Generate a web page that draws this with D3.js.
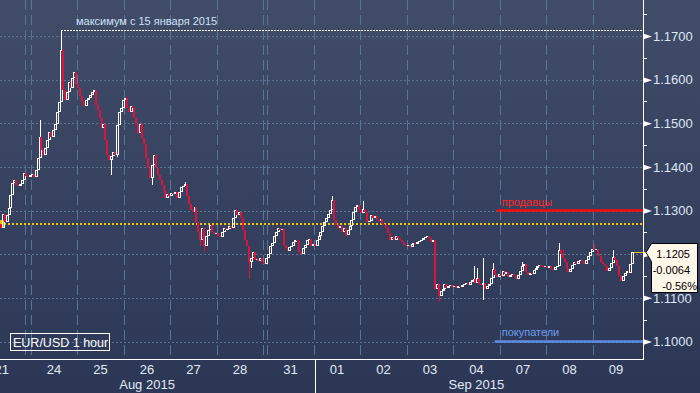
<!DOCTYPE html>
<html>
<head>
<meta charset="utf-8">
<script src="https://cdn.jsdelivr.net/npm/d3@7"></script>
<style>
  html, body { margin: 0; padding: 0; background: #2c3856; }
  svg { display: block; font-family: "Liberation Sans", Arial, sans-serif; }
</style>
</head>
<body>
<div class="chart"></div>
<script>
// hourly closes, one array per trading session (EUR/USD)
var aug21 = [1.1260,1.1292,1.1274,1.1290,1.1306,1.1336,1.1363,1.1370,1.1359,1.1356,1.1361,1.1370,1.1386];
var aug23 = [1.1379,1.1377,1.1381];
var aug24 = [1.1384,1.1377,1.1393,1.1420,1.1469,1.1439,1.1427,1.1443,1.1462,1.1480,1.1469,1.1485,1.1498,1.1526,1.1549,1.1668,1.1576,1.1553,1.1572,1.1595,1.1581,1.1604,1.1618,1.1590];
var aug25 = [1.1581,1.1563,1.1549,1.1540,1.1553,1.1558,1.1565,1.1572,1.1576,1.1542,1.1530,1.1512,1.1489,1.1498,1.1462,1.1427,1.1416,1.1425,1.1434,1.1427,1.1496,1.1526,1.1535,1.1553];
var aug26 = [1.1558,1.1535,1.1526,1.1540,1.1535,1.1512,1.1498,1.1478,1.1498,1.1466,1.1453,1.1420,1.1398,1.1375,1.1404,1.1427,1.1398,1.1381,1.1370,1.1359,1.1347,1.1329,1.1338,1.1333];
var aug27 = [1.1340,1.1338,1.1343,1.1329,1.1343,1.1354,1.1356,1.1361,1.1333,1.1315,1.1301,1.1297,1.1308,1.1274,1.1251,1.1233,1.1260,1.1219,1.1242,1.1256,1.1267,1.1251,1.1246,1.1249];
var aug28 = [1.1242,1.1240,1.1251,1.1260,1.1256,1.1258,1.1265,1.1260,1.1283,1.1301,1.1290,1.1297,1.1283,1.1256,1.1233,1.1219,1.1182,1.1191,1.1205,1.1187,1.1189,1.1184,1.1191,1.1182];
var aug30 = [1.1177,1.1191];
var aug31 = [1.1200,1.1219,1.1226,1.1242,1.1251,1.1260,1.1256,1.1258,1.1221,1.1214,1.1207,1.1217,1.1219,1.1228,1.1233,1.1230,1.1205,1.1200,1.1214,1.1221,1.1233,1.1235,1.1219,1.1224];
var sep01 = [1.1219,1.1233,1.1242,1.1251,1.1265,1.1274,1.1283,1.1292,1.1301,1.1324,1.1278,1.1267,1.1260,1.1265,1.1251,1.1260,1.1244,1.1256,1.1265,1.1278,1.1297,1.1308,1.1313,1.1301];
var sep02 = [1.1294,1.1304,1.1297,1.1274,1.1276,1.1290,1.1283,1.1288,1.1278,1.1276,1.1281,1.1269,1.1267,1.1260,1.1249,1.1233,1.1240,1.1233,1.1242,1.1237,1.1233,1.1228,1.1221,1.1219];
var sep03 = [1.1221,1.1217,1.1224,1.1226,1.1224,1.1228,1.1230,1.1233,1.1237,1.1240,1.1242,1.1237,1.1228,1.1233,1.1120,1.1132,1.1104,1.1116,1.1120,1.1132,1.1123,1.1127,1.1130,1.1125];
var sep04 = [1.1127,1.1123,1.1127,1.1125,1.1130,1.1132,1.1134,1.1130,1.1136,1.1141,1.1143,1.1134,1.1145,1.1132,1.1130,1.1134,1.1120,1.1127,1.1132,1.1145,1.1166,1.1152,1.1148,1.1155];
var sep07 = [1.1150,1.1161,1.1155,1.1159,1.1148,1.1152,1.1155,1.1150,1.1143,1.1152,1.1161,1.1173,1.1177,1.1159,1.1152,1.1157,1.1155,1.1164,1.1168,1.1173,1.1175,1.1173,1.1171,1.1173];
var sep08 = [1.1168,1.1173,1.1166,1.1164,1.1171,1.1173,1.1210,1.1200,1.1191,1.1182,1.1168,1.1159,1.1166,1.1175,1.1182,1.1177,1.1184,1.1187,1.1182,1.1177,1.1187,1.1196,1.1205,1.1212];
var sep09 = [1.1210,1.1212,1.1200,1.1196,1.1182,1.1177,1.1173,1.1161,1.1168,1.1180,1.1194,1.1187,1.1173,1.1150,1.1139,1.1150,1.1157,1.1161,1.1157,1.1177,1.1205];

// day label, closes ("" = sunday evening session)
var sessions = [
  ["21", aug21], ["", aug23], ["24", aug24], ["25", aug25], ["26", aug26],
  ["27", aug27], ["28", aug28], ["", aug30], ["31", aug31], ["01", sep01],
  ["02", sep02], ["03", sep03], ["04", sep04], ["07", sep07], ["08", sep08], ["09", sep09]
];

// visible wicks: day, hour index, high, low
var wicks = [
  ["24", 4, 1.1508, null], ["24", 15, 1.1714, null], ["25", 17, null, 1.1382],
  ["25", 20, null, 1.1423], ["26", 1, 1.1560, null], ["26", 9, 1.1501, null],
  ["26", 14, null, 1.1359], ["27", 7, 1.1366, null], ["27", 15, null, 1.1219],
  ["27", 17, null, 1.1205], ["28", 16, null, 1.1143], ["28", 17, null, 1.1168],
  ["01", 9, 1.1333, null], ["01", 16, null, 1.1240], ["02", 1, 1.1322, null],
  ["03", 16, null, 1.1091], ["04", 10, 1.1173, null], ["04", 12, 1.1168, null],
  ["04", 15, 1.1191, 1.1095], ["04", 20, 1.1180, null], ["07", 11, 1.1182, null],
  ["08", 6, 1.1226, null], ["08", 8, 1.1212, null], ["09", 0, 1.1224, null],
  ["09", 10, 1.1210, null]
];

var prevClose = 1.12686;
var priceTicks = [1.10, 1.11, 1.12, 1.13, 1.14, 1.15, 1.16, 1.17];
var months = [["Aug 2015", "26"], ["Sep 2015", "04"]];
var sellers = ["продавцы", 1.13];
var buyers = ["покупатели", 1.10];

var svgWidth = 700;
var svgHeight = 393;
var plotRight = 643;
var plotBottom = 359;
var slotW = 46.5 / 24;
var hiddenHours21 = 11;

// build candles
var candles = [];
var days = [];
var slot = 0;
var prev = prevClose;
sessions.forEach(function(s) {
  days.push({ label: s[0], start: slot, n: s[1].length });
  s[1].forEach(function(c, i) {
    candles.push({ day: s[0], i: i, slot: slot, open: prev, close: c,
      high: Math.max(prev, c), low: Math.min(prev, c) });
    prev = c;
    slot++;
  });
});
wicks.forEach(function(w) {
  var c = candles.find(function(d) { return d.day === w[0] && d.i === w[1]; });
  if (!c) return;
  if (w[2] !== null) c.high = Math.max(c.high, w[2]);
  if (w[3] !== null) c.low = Math.min(c.low, w[3]);
});
var lastCandle = candles[candles.length - 1];
var peak = candles.reduce(function(a, b) { return b.high > a.high ? b : a; });

var x = d3.scaleLinear().domain([0, 1]).range([-0.19, -0.19 + slotW]);
var y = d3.scaleLinear().domain([1.10, 1.17]).range([341.5, 36]);

var svg = d3.select(".chart")
  .append("svg")
  .attr("width", svgWidth)
  .attr("height", svgHeight);

var defs = svg.append("defs");
var grad = defs.append("linearGradient").attr("id", "bg")
  .attr("x1", 0).attr("y1", 0).attr("x2", 0).attr("y2", 1);
grad.append("stop").attr("offset", "0%").attr("stop-color", "#404c68");
grad.append("stop").attr("offset", "100%").attr("stop-color", "#2b3755");
defs.append("clipPath").attr("id", "plotClip")
  .append("rect").attr("width", plotRight).attr("height", plotBottom);

svg.append("rect").attr("width", svgWidth).attr("height", svgHeight).attr("fill", "url(#bg)");

// grid
var grid = svg.append("g").attr("clip-path", "url(#plotClip)");
grid.selectAll(".hgrid")
  .data(priceTicks)
  .enter()
  .append("line")
  .attr("x1", 0).attr("x2", plotRight)
  .attr("y1", function(d) { return Math.round(y(d)) + 0.5; })
  .attr("y2", function(d) { return Math.round(y(d)) + 0.5; })
  .attr("stroke", "#5a7493")
  .attr("stroke-dasharray", "2,2");

grid.selectAll(".vgrid")
  .data(days.slice(1))
  .enter()
  .append("line")
  .attr("x1", function(d) { return Math.round(x(d.start)) + 0.5; })
  .attr("x2", function(d) { return Math.round(x(d.start)) + 0.5; })
  .attr("y1", 0).attr("y2", plotBottom)
  .attr("stroke", "#587593")
  .attr("stroke-dasharray", "10,5");

// previous close line (yellow dotted)
var py = Math.round(y(prevClose));
svg.append("line")
  .attr("x1", 0).attr("x2", plotRight)
  .attr("y1", py).attr("y2", py)
  .attr("stroke", "#f2c800")
  .attr("stroke-width", 2)
  .attr("stroke-dasharray", "2,2");
svg.append("path")
  .attr("d", "M0," + (py - 4) + "L3," + (py - 4) + "L6," + py + "L3," + (py + 4) + "L0," + (py + 4) + "Z")
  .attr("fill", "#e8c400");

// sellers / buyers levels
var levelStart = x(days.find(function(d) { return d.label === "07"; }).start) - 3;
svg.append("line")
  .attr("x1", levelStart).attr("x2", plotRight)
  .attr("y1", y(sellers[1])).attr("y2", y(sellers[1]))
  .attr("stroke", "#ff0a0a").attr("stroke-width", 2.5);
svg.append("text")
  .attr("x", levelStart + 5).attr("y", y(sellers[1]) - 5)
  .attr("fill", "#ff2626").attr("font-size", 11)
  .text(sellers[0]);
svg.append("line")
  .attr("x1", levelStart - 2).attr("x2", plotRight)
  .attr("y1", y(buyers[1])).attr("y2", y(buyers[1]))
  .attr("stroke", "#5d8fe6").attr("stroke-width", 2.5);
svg.append("text")
  .attr("x", levelStart + 5).attr("y", y(buyers[1]) - 6)
  .attr("fill", "#6c9cf0").attr("font-size", 11)
  .text(buyers[0]);

// maximum line
var peakY = Math.round(y(peak.high)) + 0.5;
svg.append("line")
  .attr("x1", Math.round(x(peak.slot + 0.5))).attr("x2", plotRight)
  .attr("y1", peakY).attr("y2", peakY)
  .attr("stroke", "#ffffff")
  .attr("stroke-dasharray", "2,1");
svg.append("text")
  .attr("x", 76).attr("y", 25)
  .attr("fill", "#cfe2fb").attr("font-size", 11)
  .text("максимум с 15 января 2015");

// candles: white hollow = up, red filled = down
var chart = svg.append("g").attr("clip-path", "url(#plotClip)").attr("shape-rendering", "crispEdges");
chart.selectAll(".candle")
  .data(candles)
  .enter()
  .append("g")
  .each(function(d) {
    var g = d3.select(this);
    var cx = Math.round(x(d.slot + 0.5));
    var up = d.close >= d.open;
    var col = up ? "#ffffff" : "#dc143c";
    var yTop = Math.round(y(Math.max(d.open, d.close)));
    var yBot = Math.max(yTop + 1, Math.round(y(Math.min(d.open, d.close))));
    var yHi = Math.round(y(d.high));
    var yLo = Math.round(y(d.low));
    if (yHi < yTop) {
      g.append("line").attr("x1", cx + 0.5).attr("x2", cx + 0.5)
        .attr("y1", yHi).attr("y2", yTop).attr("stroke", col);
    }
    if (yLo > yBot) {
      g.append("line").attr("x1", cx + 0.5).attr("x2", cx + 0.5)
        .attr("y1", yBot).attr("y2", yLo).attr("stroke", col);
    }
    if (up && yBot - yTop > 2) {
      g.append("rect")
        .attr("x", cx - 0.5).attr("y", yTop + 0.5)
        .attr("width", 2).attr("height", yBot - yTop - 1)
        .attr("fill", "none").attr("stroke", col);
    } else if (up) {
      g.append("rect")
        .attr("x", cx - 1).attr("y", yTop)
        .attr("width", 3).attr("height", yBot - yTop)
        .attr("fill", col);
    } else {
      g.append("rect")
        .attr("x", cx - 1).attr("y", yTop)
        .attr("width", 2).attr("height", yBot - yTop)
        .attr("fill", col);
    }
  });

// last price line
var ly = Math.round(y(lastCandle.close)) + 0.5;
svg.append("line")
  .attr("x1", Math.round(x(lastCandle.slot + 0.5)) + 2).attr("x2", plotRight + 3)
  .attr("y1", ly).attr("y2", ly)
  .attr("stroke", "#e6c200");

// axes lines
svg.append("line").attr("x1", plotRight + 0.5).attr("x2", plotRight + 0.5)
  .attr("y1", 0).attr("y2", plotBottom + 1).attr("stroke", "#ffffff");
svg.append("line").attr("x1", 0).attr("x2", plotRight + 1)
  .attr("y1", plotBottom + 0.5).attr("y2", plotBottom + 0.5).attr("stroke", "#ffffff");

// right axis (a label hidden under the price box is dropped)
var boxTop = ly - 9;
var boxBottom = ly + 40;
var rightAxis = d3.axisRight(y)
  .tickValues(priceTicks)
  .tickFormat(d3.format(".4f"))
  .tickSize(0)
  .tickPadding(10);
var ax = svg.append("g")
  .attr("transform", "translate(" + plotRight + ",0)")
  .call(rightAxis);
ax.select(".domain").remove();
ax.selectAll("text")
  .attr("fill", "#dde7f6")
  .attr("font-size", 13)
  .attr("font-family", "Liberation Sans, Arial, sans-serif");
ax.selectAll(".tick")
  .filter(function(d) { return y(d) > boxTop && y(d) < boxBottom; })
  .select("text").remove();
ax.selectAll(".tick").append("path")
  .attr("d", "M0,-3L9,0L0,3Z")
  .attr("fill", "#ffffff");
svg.selectAll(".minor")
  .data(priceTicks.map(function(v) { return v + 0.005; }))
  .enter()
  .append("line")
  .attr("x1", plotRight).attr("x2", plotRight + 4)
  .attr("y1", function(d) { return Math.round(y(d)) + 0.5; })
  .attr("y2", function(d) { return Math.round(y(d)) + 0.5; })
  .attr("stroke", "#ffffff");

// price box
svg.append("path")
  .attr("d", "M646," + ly + "L651.5," + boxTop + "L697.5," + boxTop + "L697.5," + boxBottom +
    "L651.5," + boxBottom + "L651.5," + (ly + 9) + "Z")
  .attr("fill", "#fff6ea").attr("stroke", "#000000");
var change = lastCandle.close - prevClose;
var boxLines = [
  [lastCandle.close.toFixed(4), 690, 5],
  [change.toFixed(4), 690, 21],
  [(change / prevClose * 100).toFixed(2) + "%", 697, 37]
];
svg.selectAll(".boxtxt")
  .data(boxLines)
  .enter()
  .append("text")
  .attr("x", function(d) { return d[1]; })
  .attr("y", function(d) { return ly + d[2]; })
  .attr("text-anchor", "end")
  .attr("font-size", 11)
  .attr("fill", "#000000")
  .text(function(d) { return d[0]; });

// bottom axis labels
svg.selectAll(".day")
  .data(days.filter(function(d) { return d.label !== ""; }))
  .enter()
  .append("text")
  .attr("x", function(d) {
    var s = d.label === "21" ? d.start - hiddenHours21 : d.start;
    return x(s + 12);
  })
  .attr("y", 374)
  .attr("text-anchor", "middle")
  .attr("fill", "#e2eaf7")
  .attr("font-size", 13)
  .text(function(d) { return d.label; });

svg.selectAll(".month")
  .data(months)
  .enter()
  .append("text")
  .attr("x", function(m) {
    var d = days.find(function(dd) { return dd.label === m[1]; });
    return x(d.start + 12);
  })
  .attr("y", 389)
  .attr("text-anchor", "middle")
  .attr("fill", "#e2eaf7")
  .attr("font-size", 13)
  .text(function(m) { return m[0]; });

var sepStart = x(days.find(function(d) { return d.label === "01"; }).start);
svg.append("line")
  .attr("x1", Math.round(sepStart) + 1.5).attr("x2", Math.round(sepStart) + 1.5)
  .attr("y1", plotBottom).attr("y2", svgHeight)
  .attr("stroke", "#ffffff");

// legend
svg.append("rect")
  .attr("x", 10.5).attr("y", 333.5).attr("width", 99).attr("height", 17)
  .attr("fill", "none").attr("stroke", "#ffffff");
svg.append("text")
  .attr("x", 13).attr("y", 347)
  .attr("fill", "#ffffff").attr("font-size", 12.5)
  .text("EUR/USD 1 hour");
</script>
</body>
</html>
